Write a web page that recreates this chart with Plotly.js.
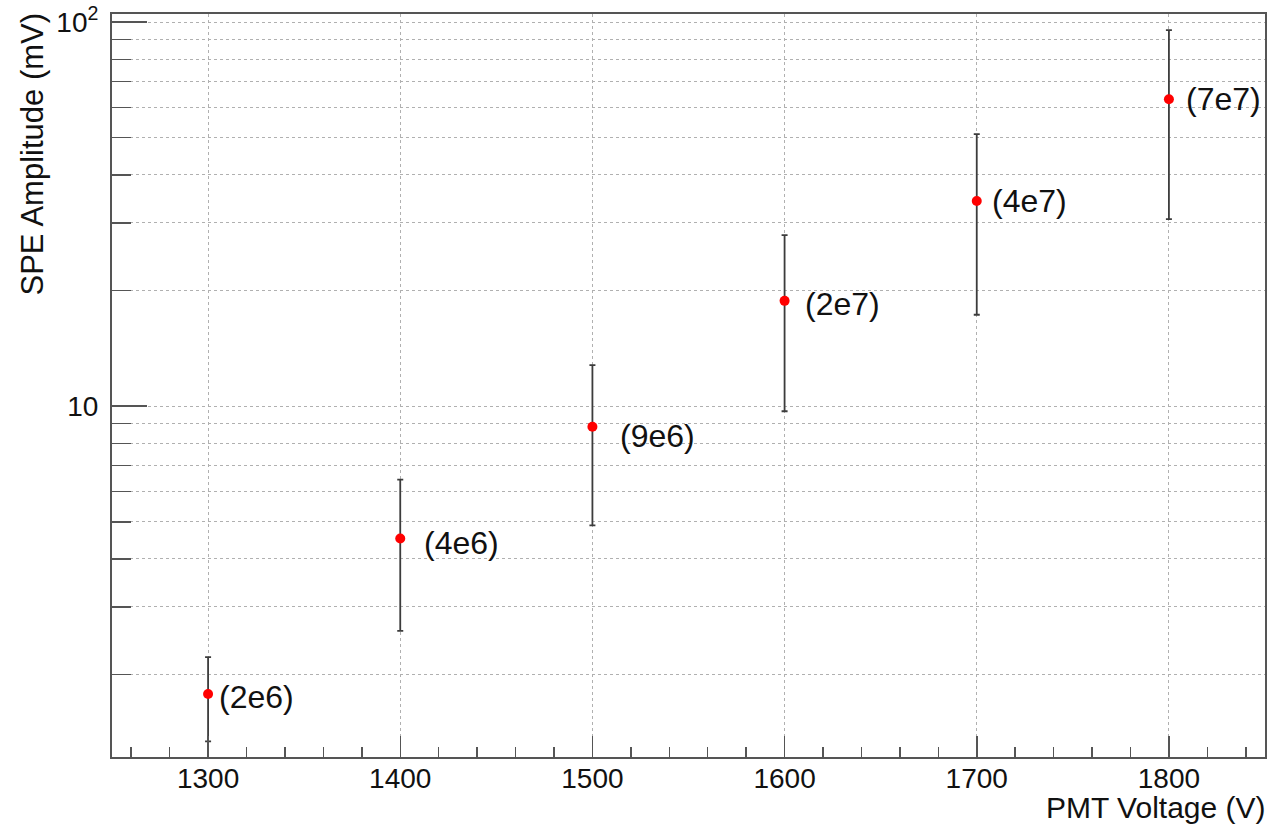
<!DOCTYPE html>
<html>
<head>
<meta charset="utf-8">
<script src="https://cdn.plot.ly/plotly-3.0.1.min.js"></script>
<style>
  html, body { margin: 0; padding: 0; background: #ffffff; }
  #chart { width: 1270px; height: 825px; }
</style>
</head>
<body>
<div id="chart"></div>
<script>
// PMT high voltage settings (V)
const voltage = [1300, 1400, 1500, 1600, 1700, 1800];
// Mean single photoelectron amplitude (mV)
const amplitude = [1.78, 4.52, 8.84, 18.8, 34.2, 63.0];
// Amplitude uncertainty (mV), symmetric
const amplitudeError = [0.44, 1.92, 3.95, 9.1, 16.9, 32.3];
// Corresponding PMT gain written beside each point
const gainLabels = ['(2e6)', '(4e6)', '(9e6)', '(2e7)', '(4e7)', '(7e7)'];

// Axis tick definitions
const yMajorTicks = [10, 100];
const yMajorText = ['10', '10<sup>2</sup>'];
const yMinorTicks = [2, 3, 4, 5, 6, 7, 8, 9, 20, 30, 40, 50, 60, 70, 80, 90];
const xMajorTicks = [1300, 1400, 1500, 1600, 1700, 1800];

// Pixel offsets of each gain label from its point
const labelShiftX = [9, 22, 26, 18, 13, 15];
const labelShiftY = [-3, -4, -9, -3, 0, 0];

const FONT = 'Liberation Sans, Arial, Helvetica, sans-serif';
const AXIS_COLOR = '#555555';
const GRID_COLOR = '#b0b0b0';

const trace = {
  x: voltage,
  y: amplitude,
  type: 'scatter',
  mode: 'markers',
  marker: { color: '#ff0000', size: 10 },
  error_y: {
    type: 'data',
    array: amplitudeError,
    visible: true,
    color: '#3c3c3c',
    thickness: 1.8,
    width: 3
  },
  hoverinfo: 'x+y'
};

const annotations = gainLabels.map((t, i) => ({
  x: voltage[i],
  y: Math.log10(amplitude[i]),
  xref: 'x',
  yref: 'y',
  text: t,
  showarrow: false,
  xanchor: 'left',
  yanchor: 'middle',
  xshift: labelShiftX[i],
  yshift: labelShiftY[i],
  font: { family: FONT, size: 32, color: '#111111' }
}));

// Axis titles, aligned to the far ends of the axes
annotations.push({
  text: 'PMT Voltage (V)',
  xref: 'paper', yref: 'paper',
  x: 1, y: 0,
  xanchor: 'right', yanchor: 'top',
  xshift: 3, yshift: -32,
  showarrow: false,
  font: { family: FONT, size: 30, color: '#111111' }
});
annotations.push({
  text: 'SPE Amplitude (mV)',
  xref: 'paper', yref: 'paper',
  x: 0, y: 1,
  xanchor: 'center', yanchor: 'top',
  xshift: -80, yshift: 3,
  textangle: -90,
  showarrow: false,
  font: { family: FONT, size: 31, color: '#111111' }
});

const layout = {
  width: 1270,
  height: 825,
  margin: { l: 112, r: 5, t: 14, b: 68 },
  paper_bgcolor: '#ffffff',
  plot_bgcolor: '#ffffff',
  showlegend: false,
  font: { family: FONT, size: 28, color: '#111111' },
  xaxis: {
    range: [1250, 1850],
    tickmode: 'array',
    tickvals: xMajorTicks,
    ticks: 'inside',
    ticklen: 21,
    tickwidth: 1.5,
    tickcolor: AXIS_COLOR,
    showline: true,
    linecolor: AXIS_COLOR,
    linewidth: 2,
    mirror: true,
    showgrid: true,
    gridcolor: GRID_COLOR,
    griddash: 'dot',
    gridwidth: 1,
    zeroline: false,
    tickfont: { family: FONT, size: 28, color: '#111111' },
    ticklabelstandoff: -5,
    minor: {
      dtick: 20,
      tick0: 1260,
      ticks: 'inside',
      ticklen: 10,
      tickwidth: 1.5,
      tickcolor: AXIS_COLOR,
      showgrid: false
    }
  },
  yaxis: {
    type: 'log',
    range: [Math.log10(1.22), Math.log10(105)],
    tickmode: 'array',
    tickvals: yMajorTicks,
    ticktext: yMajorText,
    ticks: 'inside',
    ticklen: 35,
    tickwidth: 1.5,
    tickcolor: AXIS_COLOR,
    showline: true,
    linecolor: AXIS_COLOR,
    linewidth: 2,
    mirror: true,
    showgrid: true,
    gridcolor: GRID_COLOR,
    griddash: 'dot',
    gridwidth: 1,
    zeroline: false,
    tickfont: { family: FONT, size: 28, color: '#111111' },
    ticklabelstandoff: 6,
    minor: {
      tickmode: 'array',
      tickvals: yMinorTicks,
      ticks: 'inside',
      ticklen: 19,
      tickwidth: 1.5,
      tickcolor: AXIS_COLOR,
      showgrid: true,
      gridcolor: GRID_COLOR,
      griddash: 'dot',
      gridwidth: 1
    }
  },
  annotations: annotations
};

Plotly.newPlot('chart', [trace], layout, { displayModeBar: false, staticPlot: true });
</script>
</body>
</html>
